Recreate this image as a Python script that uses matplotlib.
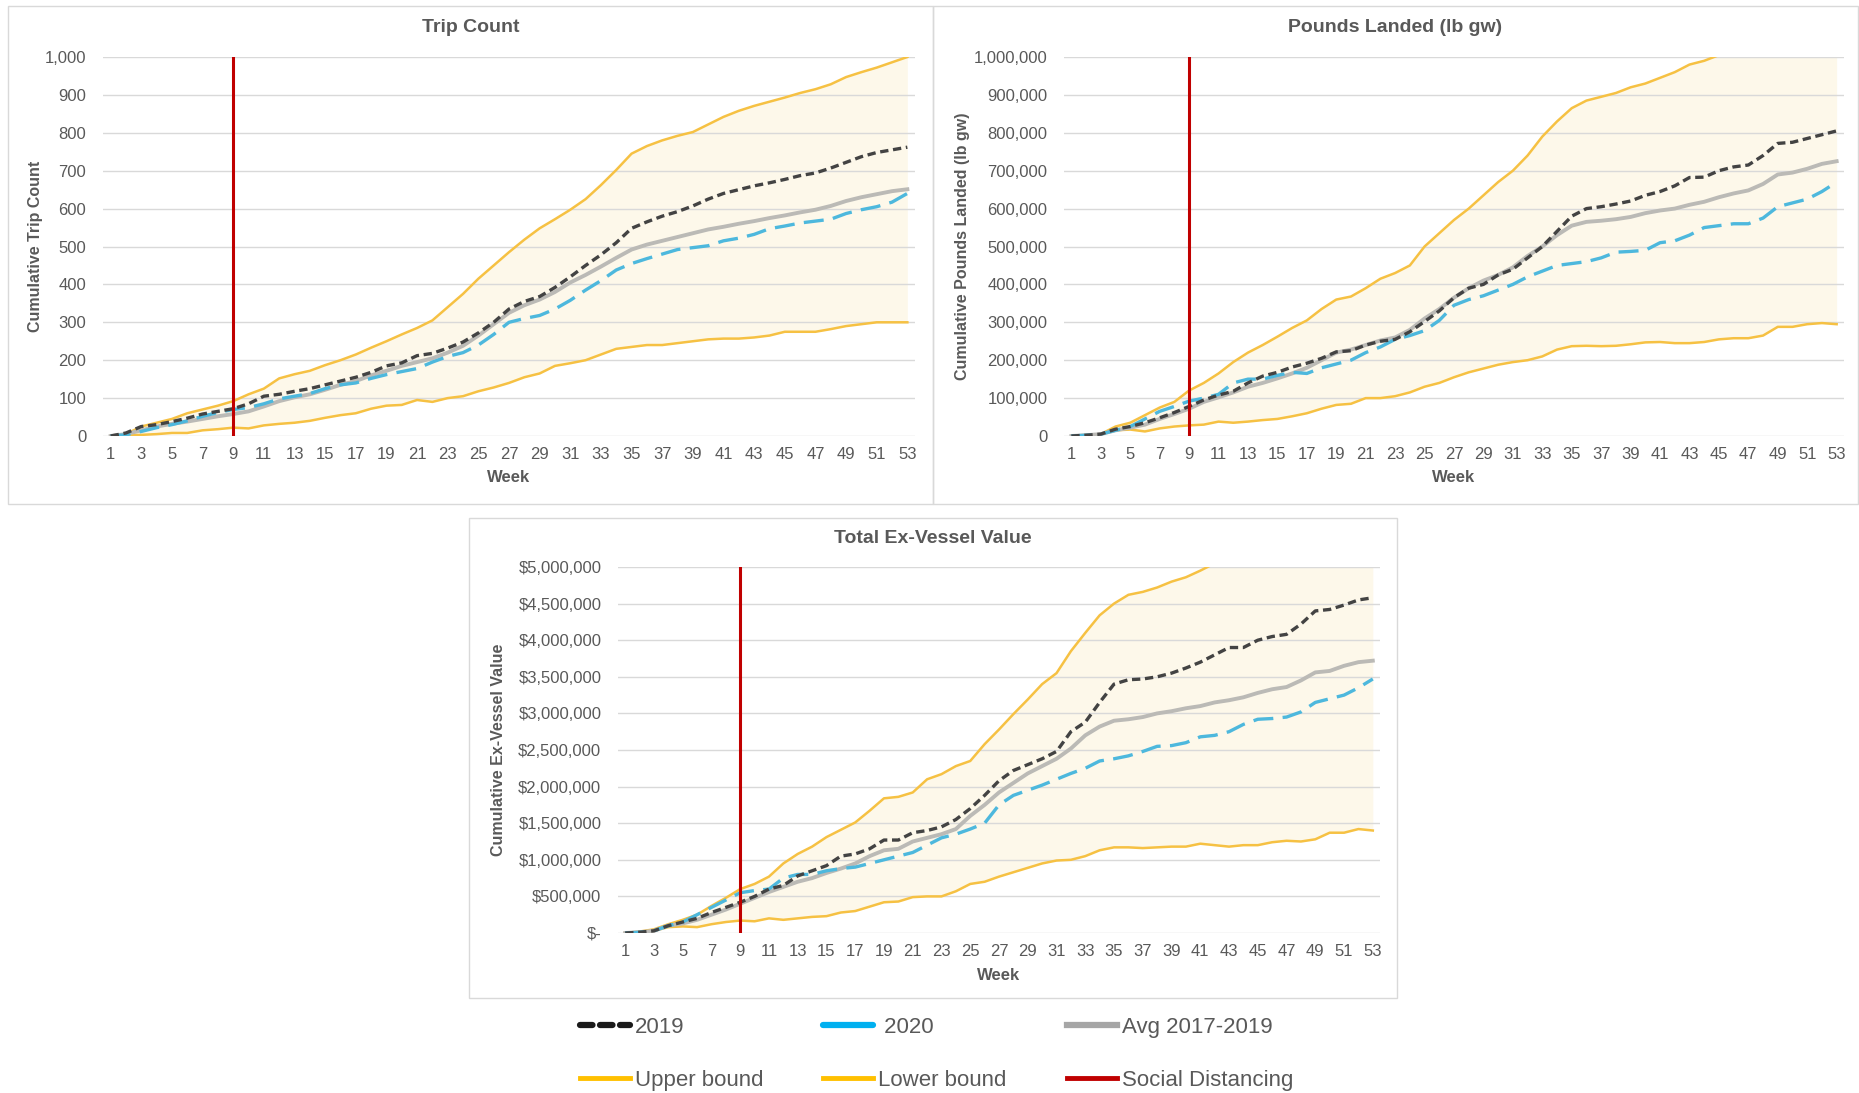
import matplotlib

matplotlib.use("Agg")
import matplotlib.pyplot as plt
from matplotlib.lines import Line2D
from matplotlib.patches import Rectangle
from matplotlib.ticker import FuncFormatter

plt.rcParams["font.family"] = ["Liberation Sans", "DejaVu Sans"]

weeks = list(range(1, 54))

# Trip count
trips_2019 = [0, 8, 25, 30, 38, 47, 58, 65, 72, 85, 105, 110, 118, 125, 135, 145, 155, 168, 185, 193,
              212, 218, 232, 248, 272, 300, 335, 355, 368, 392, 420, 450, 478, 510, 548, 565, 580, 592,
              607, 625, 640, 650, 660, 668, 677, 687, 694, 707, 722, 737, 748, 755, 762]
trips_2020 = [0, 3, 12, 22, 30, 40, 52, 62, 70, 75, 85, 98, 105, 112, 125, 135, 140, 152, 162, 170,
              178, 195, 210, 220, 240, 268, 300, 310, 318, 335, 358, 385, 410, 438, 455, 468, 480, 492,
              497, 502, 515, 522, 532, 547, 554, 562, 567, 572, 587, 597, 605, 617, 640]
trips_avg = [0, 5, 15, 25, 32, 38, 45, 52, 58, 65, 78, 92, 102, 110, 122, 135, 145, 160, 172, 185,
             195, 205, 220, 238, 265, 295, 325, 345, 360, 380, 405, 425, 447, 470, 492, 505, 515, 525,
             535, 545, 552, 560, 567, 575, 582, 590, 597, 607, 620, 630, 638, 646, 651]
trips_upper = [0, 5, 25, 35, 45, 60, 70, 80, 92, 110, 125, 152, 163, 172, 187, 200, 215, 233, 250, 268,
               285, 305, 340, 375, 415, 450, 485, 518, 548, 572, 597, 625, 662, 702, 745, 765, 780, 792,
               802, 822, 842, 858, 871, 882, 893, 905, 915, 928, 947, 960, 972, 986, 1000]
trips_lower = [0, 2, 3, 5, 8, 8, 15, 18, 22, 20, 28, 32, 35, 40, 48, 55, 60, 72, 80, 82,
               95, 90, 100, 105, 118, 128, 140, 155, 165, 185, 192, 200, 215, 230, 235, 240, 240, 245,
               250, 255, 257, 257, 260, 265, 275, 275, 275, 282, 290, 295, 300, 300, 300]

# Pounds landed, thousands of lb
lbs_2019 = [0, 2, 5, 18, 25, 35, 48, 62, 78, 95, 108, 118, 140, 158, 168, 182, 192, 205, 222, 225,
            240, 250, 255, 275, 302, 330, 365, 390, 400, 425, 440, 470, 500, 540, 580, 600, 605, 612,
            620, 635, 645, 660, 682, 683, 700, 710, 715, 740, 772, 775, 785, 795, 805]
lbs_2020 = [0, 2, 5, 15, 25, 45, 65, 78, 92, 100, 110, 140, 150, 150, 160, 168, 165, 180, 190, 200,
            220, 235, 255, 265, 278, 305, 345, 360, 370, 385, 400, 420, 435, 450, 455, 460, 470, 485,
            487, 490, 510, 515, 530, 550, 555, 560, 560, 575, 605, 615, 625, 645, 670]
lbs_avg = [0, 2, 5, 15, 22, 30, 45, 58, 72, 90, 102, 115, 130, 140, 152, 165, 180, 200, 220, 228,
           240, 252, 260, 280, 310, 335, 365, 390, 410, 425, 445, 475, 500, 530, 555, 565, 568, 572,
           578, 588, 595, 600, 610, 618, 630, 640, 648, 665, 690, 695, 705, 718, 725]
lbs_upper = [0, 3, 5, 25, 35, 55, 75, 90, 120, 140, 165, 195, 220, 240, 262, 285, 305, 335, 360, 368,
             390, 415, 430, 450, 500, 535, 570, 600, 635, 670, 700, 740, 790, 830, 865, 885, 895, 905,
             920, 930, 945, 960, 980, 990, 1005, 1020, 1035, 1055, 1075, 1090, 1105, 1120, 1140]
lbs_lower = [0, 2, 5, 15, 17, 12, 20, 25, 28, 30, 38, 35, 38, 42, 45, 52, 60, 72, 82, 85,
             100, 100, 105, 115, 130, 140, 155, 168, 178, 188, 195, 200, 210, 228, 237, 238, 237, 238,
             242, 247, 248, 245, 245, 248, 255, 258, 258, 265, 288, 288, 295, 298, 295]

# Ex-vessel value, millions of $
val_2019 = [0, 0.01, 0.03, 0.10, 0.15, 0.20, 0.28, 0.35, 0.42, 0.50, 0.60, 0.65, 0.78, 0.85, 0.92,
            1.05, 1.08, 1.15, 1.27, 1.27, 1.37, 1.40, 1.45, 1.55, 1.70, 1.88, 2.08, 2.22, 2.30, 2.38,
            2.48, 2.75, 2.88, 3.15, 3.40, 3.46, 3.47, 3.50, 3.55, 3.62, 3.70, 3.80, 3.90, 3.90, 4.00,
            4.05, 4.08, 4.22, 4.40, 4.42, 4.48, 4.55, 4.58]
val_2020 = [0, 0.01, 0.03, 0.10, 0.15, 0.25, 0.35, 0.45, 0.55, 0.58, 0.60, 0.75, 0.80, 0.80, 0.85,
            0.88, 0.90, 0.95, 1.00, 1.05, 1.10, 1.20, 1.30, 1.35, 1.42, 1.50, 1.75, 1.88, 1.95, 2.02,
            2.10, 2.18, 2.25, 2.35, 2.38, 2.42, 2.48, 2.55, 2.56, 2.60, 2.68, 2.70, 2.75, 2.85, 2.92,
            2.93, 2.95, 3.02, 3.15, 3.20, 3.25, 3.35, 3.47]
val_avg = [0, 0.01, 0.03, 0.10, 0.13, 0.18, 0.25, 0.32, 0.40, 0.48, 0.56, 0.63, 0.70, 0.75, 0.82,
           0.88, 0.95, 1.05, 1.13, 1.15, 1.25, 1.30, 1.35, 1.42, 1.60, 1.75, 1.92, 2.05, 2.18, 2.28,
           2.38, 2.52, 2.70, 2.82, 2.90, 2.92, 2.95, 3.00, 3.03, 3.07, 3.10, 3.15, 3.18, 3.22, 3.28,
           3.33, 3.36, 3.45, 3.56, 3.58, 3.65, 3.70, 3.72]
val_upper = [0, 0.02, 0.05, 0.12, 0.18, 0.25, 0.37, 0.48, 0.60, 0.67, 0.77, 0.95, 1.08, 1.18, 1.31,
             1.41, 1.51, 1.67, 1.84, 1.86, 1.92, 2.10, 2.17, 2.28, 2.35, 2.58, 2.78, 2.99, 3.19, 3.40,
             3.55, 3.85, 4.10, 4.34, 4.50, 4.62, 4.66, 4.72, 4.80, 4.86, 4.95, 5.05, 5.15, 5.25, 5.35,
             5.45, 5.55, 5.65, 5.75, 5.85, 5.95, 6.05, 6.15]
val_lower = [0, 0.01, 0.03, 0.08, 0.09, 0.08, 0.12, 0.15, 0.17, 0.16, 0.20, 0.18, 0.20, 0.22, 0.23,
             0.28, 0.30, 0.36, 0.42, 0.43, 0.49, 0.50, 0.50, 0.57, 0.67, 0.70, 0.77, 0.83, 0.89, 0.95,
             0.99, 1.00, 1.05, 1.13, 1.17, 1.17, 1.16, 1.17, 1.18, 1.18, 1.22, 1.20, 1.18, 1.20, 1.20,
             1.24, 1.26, 1.25, 1.28, 1.37, 1.37, 1.42, 1.40]

social_week = 9

C_2019 = "#434343"
C_2020 = "#4DB8DD"
C_AVG = "#BBBAB6"
C_BOUND = "#F6C143"
C_FILL = "#FDF8EA"
C_RED = "#C00000"
C_GRID = "#D9D9D9"
C_TEXT = "#595959"

W, H = 1859, 1093
fig = plt.figure(figsize=(W / 100, H / 100), dpi=100)
fig.patch.set_facecolor("white")


def px_rect(x0, y0, x1, y1):
    # pixel box (top-left origin) -> figure fraction rect
    return [x0 / W, 1 - y1 / H, (x1 - x0) / W, (y1 - y0) / H]


def fmt_plain(v, pos):
    return f"{v:,.0f}"


def fmt_dollar(v, pos):
    if abs(v) < 1:
        return "$-"
    return f"${v:,.0f}"


panels = [
    dict(title="Trip Count", ylabel="Cumulative Trip Count", scale=1,
         series=(trips_2019, trips_2020, trips_avg, trips_upper, trips_lower),
         ymax=1000, ystep=100, fmt=fmt_plain,
         frame=(8, 6, 933, 504), axes=(103, 57, 915, 436), ylab_x=36),
    dict(title="Pounds Landed (lb gw)", ylabel="Cumulative Pounds Landed (lb gw)", scale=1000,
         series=(lbs_2019, lbs_2020, lbs_avg, lbs_upper, lbs_lower),
         ymax=1000000, ystep=100000, fmt=fmt_plain,
         frame=(933, 6, 1858, 504), axes=(1064, 57, 1844, 436), ylab_x=962),
    dict(title="Total Ex-Vessel Value", ylabel="Cumulative Ex-Vessel Value", scale=1e6,
         series=(val_2019, val_2020, val_avg, val_upper, val_lower),
         ymax=5000000, ystep=500000, fmt=fmt_dollar,
         frame=(469, 518, 1397, 998), axes=(618, 567, 1380, 933), ylab_x=498),
]

for p in panels:
    fx0, fy0, fx1, fy1 = p["frame"]
    fig.add_artist(Rectangle((fx0 / W, 1 - fy1 / H), (fx1 - fx0) / W, (fy1 - fy0) / H,
                             transform=fig.transFigure, fill=False, edgecolor=C_GRID, lw=1.0))
    ax = fig.add_axes(px_rect(*p["axes"]))
    s = p["scale"]
    y19, y20, yavg, yup, ylo = [[v * s for v in ser] for ser in p["series"]]

    ax.fill_between(weeks, ylo, yup, color=C_FILL, lw=0, zorder=0.2)
    ax.plot(weeks, yup, color=C_BOUND, lw=1.8, zorder=2)
    ax.plot(weeks, ylo, color=C_BOUND, lw=1.8, zorder=2)
    ax.plot(weeks, yavg, color=C_AVG, lw=2.8, zorder=3)
    ax.plot(weeks, y20, color=C_2020, lw=2.4, dashes=(6, 2.8), zorder=4)
    ax.plot(weeks, y19, color=C_2019, lw=2.4, dashes=(2.5, 1.4), zorder=5)
    ax.axvline(social_week, color=C_RED, lw=2.2, zorder=6)

    ax.set_xlim(0.5, 53.5)
    ax.set_ylim(0, p["ymax"])
    ax.set_xticks(range(1, 54, 2))
    ax.set_yticks([i * p["ystep"] for i in range(11)])
    ax.yaxis.set_major_formatter(FuncFormatter(p["fmt"]))
    ax.grid(axis="y", color=C_GRID, lw=1.0)
    ax.set_axisbelow(True)
    for sp in ax.spines.values():
        sp.set_visible(False)
    ax.tick_params(axis="both", length=0, labelsize=12, labelcolor=C_TEXT)
    ax.tick_params(axis="x", pad=8)
    ax.tick_params(axis="y", pad=12)

    ax0, ay0, ax1, ay1 = p["axes"]
    fig.text((fx0 + fx1) / 2 / W, 1 - (fy0 + 21) / H, p["title"], ha="center", va="center",
             fontsize=14, fontweight="bold", color=C_TEXT)
    fig.text(p["ylab_x"] / W, 1 - (ay0 + ay1) / 2 / H, p["ylabel"], rotation=90,
             ha="center", va="center", fontsize=11.5, fontweight="bold", color=C_TEXT)
    fig.text((ax0 + ax1) / 2 / W, 1 - (ay1 + 42) / H, "Week", ha="center", va="center",
             fontsize=12, fontweight="bold", color=C_TEXT)

handles = [
    Line2D([], [], color="#1A1A1A", lw=4.5, dashes=(2, 1.2), dash_capstyle="round"),
    Line2D([], [], color="#FFC000", lw=3.5),
    Line2D([], [], color="#00B0F0", lw=4.5, solid_capstyle="round"),
    Line2D([], [], color="#FFC000", lw=3.5),
    Line2D([], [], color="#A6A6A6", lw=4.5),
    Line2D([], [], color=C_RED, lw=3.5),
]
labels = ["2019", "Upper bound", " 2020", "Lower bound", "Avg 2017-2019", "Social Distancing"]
fig.legend(handles, labels, ncol=3, loc="upper left", bbox_to_anchor=(580 / W, 1 - 1017 / H),
           frameon=False, fontsize=16, handlelength=2.25, handletextpad=0.22,
           columnspacing=2.7, labelspacing=1.45, borderpad=0, borderaxespad=0,
           labelcolor=C_TEXT)

fig.savefig("out.png", dpi=100)
